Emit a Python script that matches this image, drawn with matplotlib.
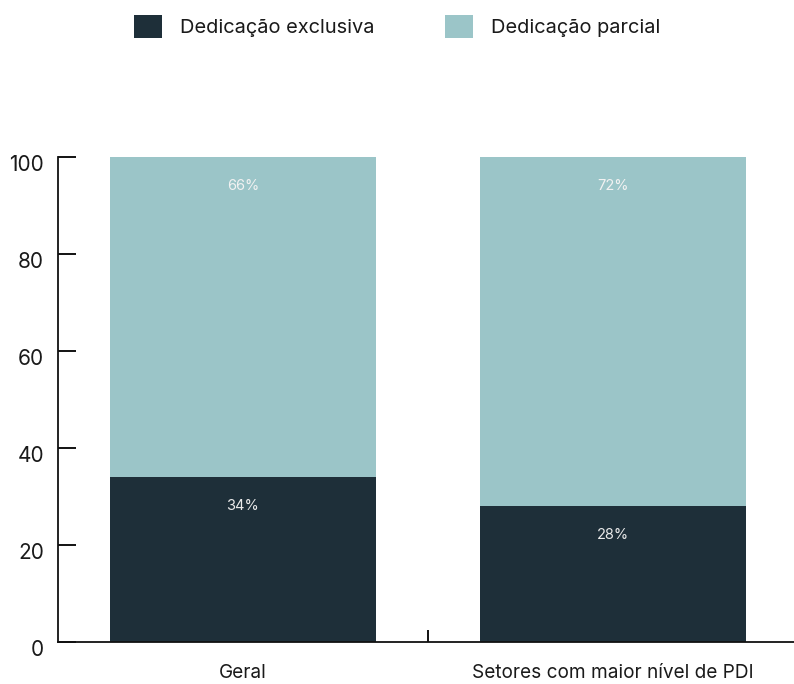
import matplotlib
matplotlib.use("Agg")
import matplotlib.pyplot as plt
import matplotlib.transforms as mtransforms
import numpy as np

plt.rcParams['font.family'] = ['Inter', 'DejaVu Sans']

categories = ["Geral", "Setores com maior nível de PDI"]
exclusiva = [34, 28]
parcial = [66, 72]
series_names = ["Dedicação exclusiva", "Dedicação parcial"]

dark = "#1e2f39"
light = "#9bc5c8"
text_col = "#1a1a1a"

fig = plt.figure(figsize=(7.94, 6.84), dpi=100)
ax = fig.add_axes([0.073, 0.0614, 0.932, 0.709])

x = np.arange(len(categories))
w = 0.72
b1 = ax.bar(x, exclusiva, width=w, color=dark, label=series_names[0], zorder=2)
b2 = ax.bar(x, parcial, width=w, bottom=exclusiva, color=light, label=series_names[1], zorder=2)

# percentage labels near the top of each segment
for i in range(len(categories)):
    ax.annotate("{}%".format(exclusiva[i]), xy=(x[i], exclusiva[i]), xytext=(0, -21),
                textcoords="offset points", ha="center", va="center",
                fontsize=10.5, color="#eaeaea")
    ax.annotate("{}%".format(parcial[i]), xy=(x[i], exclusiva[i] + parcial[i]), xytext=(0, -21),
                textcoords="offset points", ha="center", va="center",
                fontsize=10.5, color="#f2f2f2")

ax.set_xlim(-0.5, len(categories) - 0.5)
ax.set_ylim(0, 100)
ax.set_yticks([0, 20, 40, 60, 80, 100])
ax.tick_params(axis="y", direction="in", length=13, width=1.3, pad=10,
               labelsize=15, labelcolor=text_col)

# one tick between categories, labels on minor ticks
ax.set_xticks([0.5])
ax.set_xticklabels([""])
ax.tick_params(axis="x", which="major", direction="in", length=9, width=1.3)
ax.set_xticks(x, minor=True)
ax.set_xticklabels(categories, minor=True)
ax.tick_params(axis="x", which="minor", length=0, pad=16, labelsize=13.7, labelcolor=text_col)

for s in ["top", "right"]:
    ax.spines[s].set_visible(False)
for s in ["left", "bottom"]:
    ax.spines[s].set_linewidth(1.3)
    ax.spines[s].set_color("#111111")

offset = mtransforms.ScaledTranslation(0, -6 / 100, fig.dpi_scale_trans)
for lbl in ax.get_yticklabels():
    lbl.set_transform(lbl.get_transform() + offset)

fig.legend(handles=[b1, b2], loc="upper center", bbox_to_anchor=(0.5, 1.005), ncol=2,
           frameon=False, fontsize=14.4, handlelength=1.4, handleheight=1.4,
           handletextpad=0.9, columnspacing=3.5, labelcolor=text_col)

fig.savefig("out.png", dpi=100)
